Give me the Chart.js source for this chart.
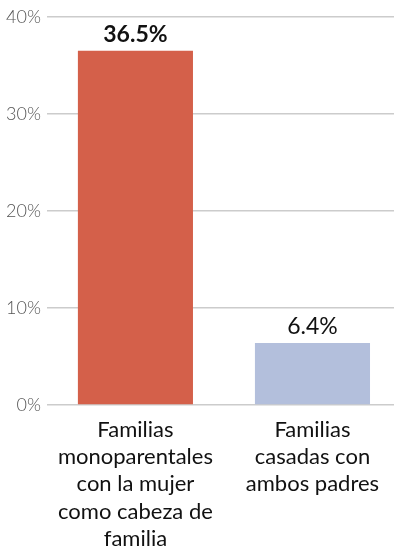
<!DOCTYPE html>
<html>
<head>
<meta charset="utf-8">
<script src="https://cdn.jsdelivr.net/npm/chart.js@4/dist/chart.umd.min.js"></script>
<style>
  html, body { margin: 0; padding: 0; background: #fff; overflow: hidden; }
  #wrap { width: 401px; height: 556px; }
</style>
</head>
<body>
<div id="wrap"><canvas id="famchart"></canvas></div>
<script>
const categories = [
  ['Familias', 'monoparentales', 'con la mujer', 'como cabeza de', 'familia'],
  ['Familias', 'casadas con', 'ambos padres']
];
const values = [36.5, 6.4];
const barColors = ['#d4604a', '#b3bfdc'];
const yTicks = [0, 10, 20, 30, 40];

// writes the percentage above each bar
const valueLabels = {
  id: 'valueLabels',
  afterDatasetsDraw(chart) {
    const ctx = chart.ctx;
    const meta = chart.getDatasetMeta(0);
    ctx.save();
    ctx.textAlign = 'center';
    ctx.textBaseline = 'alphabetic';
    ctx.fillStyle = '#111';
    meta.data.forEach((bar, i) => {
      ctx.font = (i === 0 ? '700 ' : '400 ') + '23px Lato';
      ctx.fillText(values[i].toFixed(1) + '%', bar.x, bar.y - 9);
    });
    ctx.restore();
  }
};

new Chart('famchart', {
  type: 'bar',
  data: {
    labels: categories,
    datasets: [{
      data: values,
      backgroundColor: barColors,
      barPercentage: 0.65,
      categoryPercentage: 1
    }]
  },
  options: {
    animation: false,
    responsive: true,
    maintainAspectRatio: false,
    layout: { padding: { top: 1, left: 0, right: 0, bottom: 0 } },
    plugins: {
      legend: { display: false },
      tooltip: { enabled: false }
    },
    scales: {
      x: {
        afterFit(axis) { axis.height = 151; },
        grid: { display: false },
        border: { display: false },
        ticks: {
          color: '#111',
          font: { family: 'Lato', size: 22, lineHeight: 1.24 },
          maxRotation: 0,
          padding: 3
        }
      },
      y: {
        min: 0,
        max: 40,
        afterBuildTicks(axis) {
          axis.ticks = yTicks.map(v => ({ value: v }));
        },
        grid: { color: '#cccccc', lineWidth: 1.5, drawTicks: false },
        border: { display: false },
        ticks: {
          color: '#555',
          font: { family: 'Lato', size: 18, weight: 300 },
          padding: 6,
          callback: v => v + '%'
        }
      }
    }
  },
  plugins: [valueLabels]
});
</script>
</body>
</html>
